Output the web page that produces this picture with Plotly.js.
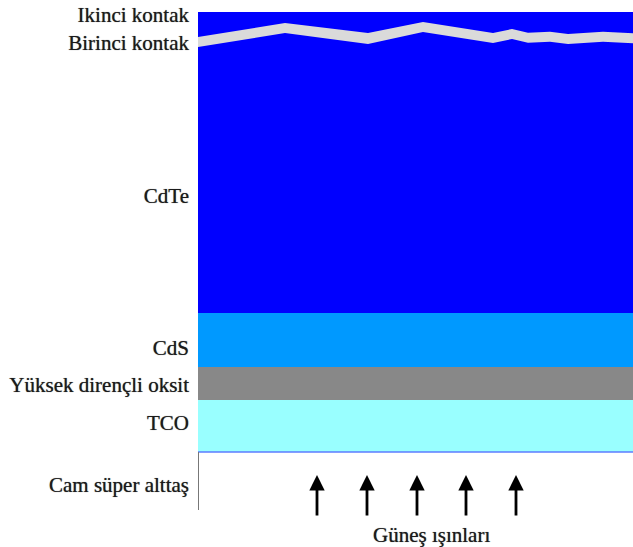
<!DOCTYPE html>
<html><head><meta charset="utf-8">
<script src="https://cdn.plot.ly/plotly-3.0.1.min.js"></script>
<style>html,body{margin:0;padding:0;background:#fff}#chart{width:633px;height:547px}</style>
</head><body><div id="chart"></div>
<script>
// Layer stack (depth units measured downward from the top of the stack)
const layerNames = ['CdTe', 'CdS', 'Yüksek dirençli oksit', 'TCO'];
const layerTop = [0, 301, 355, 388];
const layerBottom = [301, 355, 388, 440];
const glassTop = 440;
const glassBottom = 498;

// Contact (Birinci kontak) profile across the width
const contactX = [0, 87, 170, 225, 295, 314, 330, 352, 370, 405, 435];
const contactUpper = [25, 11, 21, 10, 21, 17, 20.7, 19.7, 22, 19.7, 21.3];
const contactLower = [35, 21, 32, 20, 31, 27, 30.7, 29.7, 32, 29.7, 31.3];

// Side labels
const labelTexts = ['Ikinci kontak', 'Birinci kontak', 'CdTe', 'CdS', 'Yüksek dirençli oksit', 'TCO', 'Cam süper alttaş'];
const labelDepths = [3, 31, 184, 336, 373, 411, 473];

// Sun rays
const sunRayX = [119, 169, 219, 268, 318];
const sunRayTip = 463;
const sunRayTail = 505;
const sunLabel = 'Güneş ışınları';
const sunLabelX = 233;
const sunLabelDepth = 523;

const widthMax = 435;
const layerColors = ['#0000FF', '#0099FF', '#888888', '#99FFFF'];
const textFont = {family: 'Liberation Serif', size: 21, color: '#1a1a1a', shadow: '0px 0px 0.8px #555'};

const traces = [];
layerNames.forEach((n, i) => {
  traces.push({
    type: 'scatter', mode: 'lines', name: n,
    x: [0, widthMax, widthMax, 0, 0],
    y: [layerTop[i], layerTop[i], layerBottom[i], layerBottom[i], layerTop[i]],
    fill: 'toself', fillcolor: layerColors[i],
    line: {width: 0, color: layerColors[i]}, hoverinfo: 'name', showlegend: false
  });
});
// TCO bottom edge
traces.push({type: 'scatter', mode: 'lines', x: [0, widthMax], y: [layerBottom[3], layerBottom[3]],
  line: {color: '#5C7CFF', width: 1.5}, showlegend: false, hoverinfo: 'skip'});
// glass left edge
traces.push({type: 'scatter', mode: 'lines', x: [0, 0], y: [glassTop, glassBottom],
  line: {color: '#777777', width: 2}, showlegend: false, hoverinfo: 'skip', cliponaxis: false});
// contact band
traces.push({type: 'scatter', mode: 'lines', x: contactX, y: contactUpper,
  line: {width: 0, color: '#DADADA'}, showlegend: false, hoverinfo: 'skip'});
traces.push({type: 'scatter', mode: 'lines', x: contactX, y: contactLower,
  fill: 'tonexty', fillcolor: '#DADADA',
  line: {width: 0, color: '#DADADA'}, showlegend: false, hoverinfo: 'skip'});

const annotations = sunRayX.map(x => ({
  x: x, y: sunRayTip, ax: x, ay: sunRayTail, axref: 'x', ayref: 'y', xref: 'x', yref: 'y',
  text: '', showarrow: true, arrowhead: 2, arrowsize: 1.1, arrowwidth: 2.8, arrowcolor: '#000'
}));
annotations.push({x: sunLabelX, y: sunLabelDepth, xref: 'x', yref: 'y', text: sunLabel, showarrow: false,
  font: textFont});

const layout = {
  width: 633, height: 547,
  margin: {l: 198, r: 0, t: 0, b: 0, pad: 0},
  paper_bgcolor: '#fff', plot_bgcolor: '#fff',
  xaxis: {range: [0, widthMax], visible: false, fixedrange: true},
  yaxis: {range: [535, -12], showgrid: false, zeroline: false, showline: false, ticks: '',
    tickvals: labelDepths, ticktext: labelTexts, ticklabelstandoff: 8,
    tickfont: textFont, fixedrange: true},
  annotations: annotations,
  showlegend: false
};
Plotly.newPlot('chart', traces, layout, {displayModeBar: false, staticPlot: true});
</script></body></html>
